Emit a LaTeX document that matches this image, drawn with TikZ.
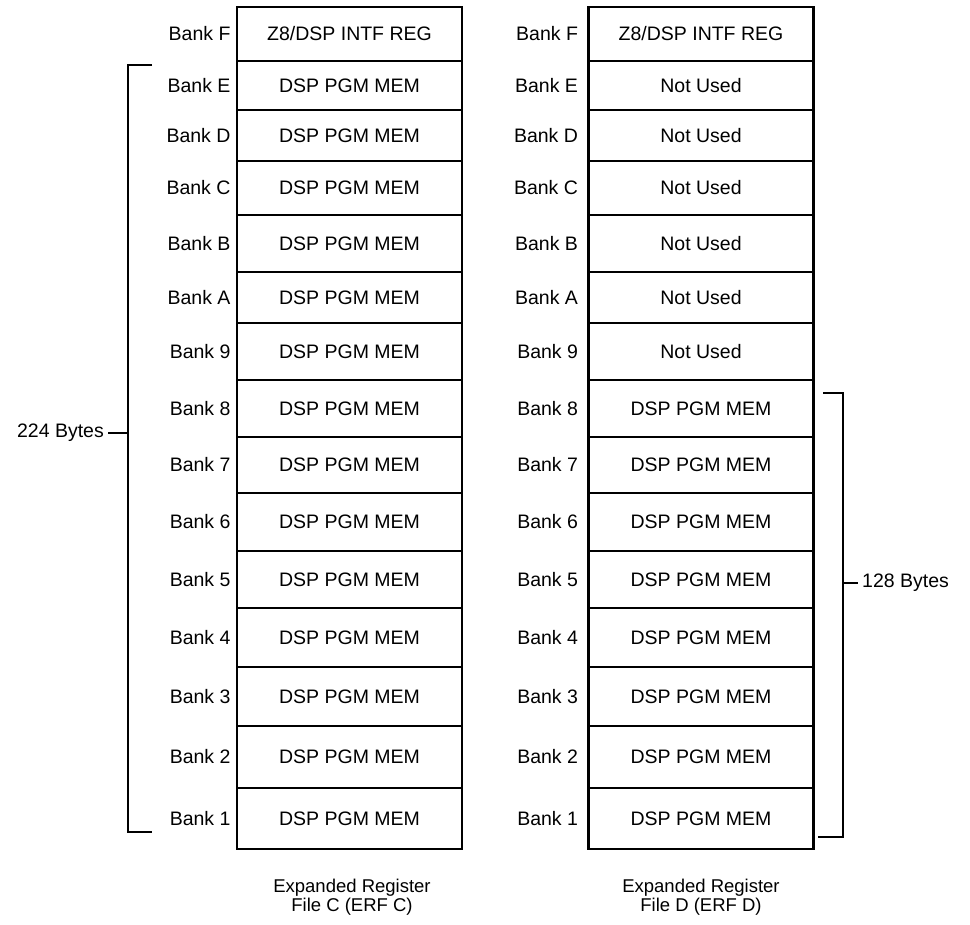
\documentclass[tikz,border=0pt]{standalone}
\usepackage{fontspec}
\setmainfont{Liberation Sans}
\usetikzlibrary{positioning}

\newcommand{\banksize}{\fontsize{19.5}{22}\selectfont}
\newcommand{\capsize}{\fontsize{18.5}{19}\selectfont}

\tikzset{
  bank/.style={draw, line width=2.6pt, minimum width=225pt, inner sep=0pt, font=\banksize},
  banklbl/.style={inner sep=0pt, font=\banksize},
  bytes/.style={inner sep=0pt, inner xsep=4pt, font=\banksize},
  brace/.style={line width=2.8pt},
  caption/.style={align=center, font=\capsize},
}

\begin{document}
\begin{tikzpicture}[x=1pt, y=-1pt]

\useasboundingbox (0,0) rectangle (970,925);

% Both register files, one row per bank
\foreach \b/\yt/\yb [count=\i] in {F/7/61, E/61/110, D/110/161, C/161/215, B/215/272,
    A/272/323, 9/323/380, 8/380/437, 7/437/493, 6/493/551, 5/551/608, 4/608/667,
    3/667/726, 2/726/788, 1/788/849} {
  \pgfmathsetmacro{\h}{\yb-\yt}
  \pgfmathsetmacro{\ym}{(\yt+\yb)/2}
  % ERF C
  \node[bank, minimum height=\h pt] (c\b) at (349.5,\ym)
    {\ifnum\i=1 Z8/DSP INTF REG\else DSP PGM MEM\fi};
  \node[banklbl, left=5pt of c\b.west] (cl\b) {Bank \b};
  % ERF D
  \node[bank, minimum height=\h pt] (d\b) at (701,\ym)
    {\ifnum\i=1 Z8/DSP INTF REG\else\ifnum\i<8 Not Used\else DSP PGM MEM\fi\fi};
  \node[banklbl, left=9pt of d\b.west] (dl\b) {Bank \b};
}

% Captions
\node[caption] (capc) at (352,897) {Expanded Register\\File C (ERF C)};
\node[caption] (capd) at (701,897) {Expanded Register\\File D (ERF D)};

% 224 Bytes bracket
\coordinate (lt) at (152,65);
\coordinate (lb) at (152,832);
\coordinate (lmid) at (128,433);
\draw[brace] (lt) -- ++(-24,0) |- (lb);
\node[bytes, anchor=east] (l224) at (108,433) {224 Bytes};
\draw[brace] (l224.east) -- (lmid);

% 128 Bytes bracket
\coordinate (rt) at (823,393);
\coordinate (rb) at (818,837);
\coordinate (rmid) at (843,583);
\draw[brace] (rt) -- ++(20,0) |- (rb);
\node[bytes, anchor=west] (r128) at (858,583) {128 Bytes};
\draw[brace] (rmid) -- (r128.west);

\end{tikzpicture}
\end{document}
